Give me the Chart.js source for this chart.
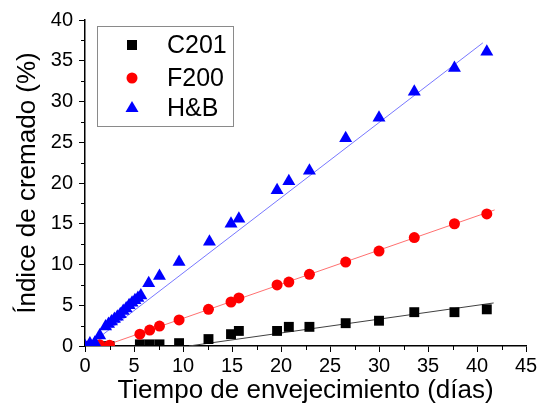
<!DOCTYPE html>
<html><head><meta charset="utf-8">
<script src="https://cdn.jsdelivr.net/npm/chart.js@4"></script>
<style>html,body{margin:0;padding:0;background:#fff}</style>
</head><body>
<canvas id="c" width="540" height="403"></canvas>
<script>
// ---- data ----
const seriesNames = ['C201', 'F200', 'H&B'];
const xTicks = [0, 5, 10, 15, 20, 25, 30, 35, 40, 45];
const yTicks = [0, 5, 10, 15, 20, 25, 30, 35, 40];

const c201Days = [1.5, 2.5, 5.6, 6.6, 7.6, 9.6, 12.6, 14.9, 15.7, 19.6, 20.8, 22.9, 26.6, 30.0, 33.6, 37.7, 41.0];
const c201Vals = [0, 0, 0.2, 0.2, 0.2, 0.35, 0.85, 1.45, 1.85, 1.85, 2.35, 2.35, 2.8, 3.1, 4.15, 4.15, 4.5];

const f200Days = [0, 1.5, 2.5, 5.6, 6.6, 7.6, 9.6, 12.6, 14.9, 15.7, 19.6, 20.8, 22.9, 26.6, 30.0, 33.6, 37.7, 41.0];
const f200Vals = [0, 0.15, 0.1, 1.45, 1.95, 2.45, 3.2, 4.5, 5.4, 5.9, 7.5, 7.85, 8.8, 10.3, 11.65, 13.3, 15.0, 16.2];

const hbDays = [0, 0.5, 1.0, 1.5, 2.1, 2.4, 2.7, 3.0, 3.3, 3.6, 3.9, 4.2, 4.5, 4.8, 5.1, 5.4, 5.7, 6.5, 7.6, 9.6, 12.7, 14.9, 15.7, 19.6, 20.8, 22.9, 26.6, 30.0, 33.6, 37.7, 41.0];
const hbVals = [0, 0.3, 0.4, 1.3, 2.4, 2.7, 3.0, 3.3, 3.6, 3.9, 4.3, 4.6, 5.0, 5.3, 5.6, 5.9, 6.2, 7.7, 8.6, 10.3, 12.8, 15.0, 15.6, 19.1, 20.2, 21.5, 25.5, 28.0, 31.2, 34.1, 36.1];

// linear-fit line end points
const c201FitX = [10.6, 41.7], c201FitY = [0, 5.28];
const f200FitX = [1.9, 41.8], f200FitY = [0, 16.7];
const hbFitX = [0.3, 40.6], hbFitY = [0.0, 37.2];

const FONT = 'Arial, "Liberation Sans", sans-serif';
const pts = (xs, ys) => xs.map((x, i) => ({x, y: ys[i]}));

const markerStyles = [
  {pointStyle: 'rect', color: '#000000', radius: 7},
  {pointStyle: 'circle', color: '#ff0000', radius: 5.5},
  {pointStyle: 'triangle', color: '#0000ff', radius: 7.5}
];

const scatterSets = [[c201Days, c201Vals], [f200Days, f200Vals], [hbDays, hbVals]].map((d, i) => ({
  type: 'scatter', label: seriesNames[i], data: pts(d[0], d[1]),
  pointStyle: markerStyles[i].pointStyle, pointRadius: markerStyles[i].radius,
  backgroundColor: markerStyles[i].color, borderColor: markerStyles[i].color, borderWidth: 0,
  order: 3 - i
}));
const fitColors = ['#404040', '#ff7070', '#7878ff'];
const fitSets = [[c201FitX, c201FitY], [f200FitX, f200FitY], [hbFitX, hbFitY]].map((d, i) => ({
  type: 'line', label: seriesNames[i] + ' fit', data: pts(d[0], d[1]),
  borderColor: fitColors[i], borderWidth: 1, pointRadius: 0, fill: false, order: 10
}));

const minorTicks = {
  id: 'minorTicks',
  afterDraw(chart) {
    const ctx = chart.ctx, xs = chart.scales.x, ys = chart.scales.y;
    ctx.save(); ctx.strokeStyle = '#000'; ctx.lineWidth = 1;
    for (let i = 0; i < xTicks.length - 1; i++) {
      const v = (xTicks[i] + xTicks[i + 1]) / 2, p = Math.round(xs.getPixelForValue(v)) + 0.5;
      ctx.beginPath(); ctx.moveTo(p, ys.bottom); ctx.lineTo(p, ys.bottom + 4); ctx.stroke();
    }
    for (let i = 0; i < yTicks.length - 1; i++) {
      const v = (yTicks[i] + yTicks[i + 1]) / 2, p = Math.round(ys.getPixelForValue(v)) + 0.5;
      ctx.beginPath(); ctx.moveTo(xs.left, p); ctx.lineTo(xs.left - 4, p); ctx.stroke();
    }
    ctx.restore();
  }
};

const boxLegend = {
  id: 'boxLegend',
  afterDraw(chart) {
    const ctx = chart.ctx;
    ctx.save();
    ctx.strokeStyle = '#8a8a8a'; ctx.lineWidth = 1;
    ctx.strokeRect(97.5, 26.5, 136, 100);
    ctx.font = '25px ' + FONT; ctx.textBaseline = 'middle'; ctx.textAlign = 'left'; ctx.fillStyle = '#000';
    const rows = [45, 78, 108];
    seriesNames.forEach((n, i) => {
      const y = rows[i], x = 132;
      ctx.fillStyle = markerStyles[i].color;
      ctx.beginPath();
      if (i === 0) ctx.rect(x - 5, y - 5, 10, 10);
      else if (i === 1) ctx.arc(x, y, 5.5, 0, Math.PI * 2);
      else { ctx.moveTo(x, y - 7); ctx.lineTo(x + 6.5, y + 4); ctx.lineTo(x - 6.5, y + 4); ctx.closePath(); }
      ctx.fill();
      ctx.fillStyle = '#000';
      ctx.fillText(n, 167, y + 1);
    });
    ctx.restore();
  }
};

new Chart(document.getElementById('c'), {
  data: {datasets: [...scatterSets, ...fitSets]},
  options: {
    responsive: false, animation: false, devicePixelRatio: 1,
    layout: {padding: {top: 20, right: 14, left: 0, bottom: 0}},
    plugins: {legend: {display: false}, tooltip: {enabled: false}},
    scales: {
      x: {
        type: 'linear', min: 0, max: 45,
        afterBuildTicks: s => { s.ticks = xTicks.map(v => ({value: v})); },
        afterFit: s => { s.height = 57; },
        ticks: {font: {family: FONT, size: 20}, color: '#000', padding: 2, maxRotation: 0},
        grid: {display: true, drawOnChartArea: false, tickLength: 6, color: '#000', tickWidth: 1},
        border: {display: true, color: '#000', width: 1.5},
        title: {display: true, text: 'Tiempo de envejecimiento (días)', font: {family: FONT, size: 26}, color: '#000', padding: {top: 0, bottom: -3}}
      },
      y: {
        type: 'linear', min: 0, max: 40,
        afterBuildTicks: s => { s.ticks = yTicks.map(v => ({value: v})); },
        afterFit: s => { s.width = 85; },
        ticks: {font: {family: FONT, size: 20}, color: '#000', padding: 6},
        grid: {display: true, drawOnChartArea: false, tickLength: 6, color: '#000', tickWidth: 1},
        border: {display: true, color: '#000', width: 1.5},
        title: {display: true, text: 'Índice de cremado (%)', font: {family: FONT, size: 26}, color: '#000', padding: {top: 12, bottom: 0}}
      }
    }
  },
  plugins: [minorTicks, boxLegend]
});
</script>
</body></html>
